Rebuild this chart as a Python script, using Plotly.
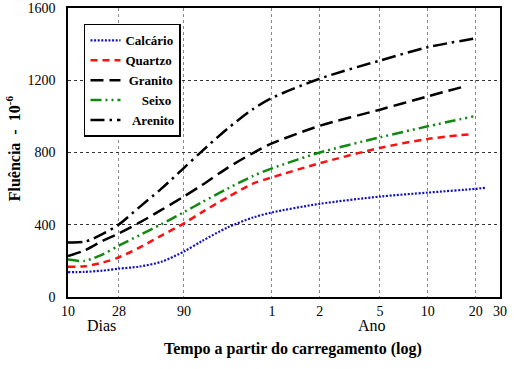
import numpy as np
import plotly.graph_objects as go

# ---------------- data ----------------
# time since loading, in days (10 days ... 30 years)
tick_days = [10, 28, 90, 365, 730, 1825, 3650, 7300, 10950]
tick_text = ["10", "28", "90", "1", "2", "5", "10", "20", "30"]
# relative position of each tick along the (approximately log) time axis of the original
tick_u = [0.0, 0.118, 0.2685, 0.472, 0.583, 0.722, 0.833, 0.944, 1.0]

days = [10, 14, 20, 28, 40, 60, 90, 120, 180, 270, 365, 730, 1825, 3650]

calcario = [137, 139, 146, 157, 168, 195, 252, 310, 385, 440, 468, 516, 556, 578]
calcario_end_days = [7300, 8650]
calcario_end = [599, 605]

quartzo = [168, 170, 190, 220, 272, 340, 408, 470, 552, 628, 662, 741, 825, 875]
quartzo_end_days = [6900]
quartzo_end = [902]

granito = [227, 258, 310, 352, 410, 482, 557, 620, 715, 797, 850, 948, 1037, 1111]
granito_end_days = [6050]
granito_end = [1163]

seixo = [207, 200, 235, 285, 340, 403, 470, 525, 600, 670, 712, 800, 884, 945]
seixo_end_days = [7050]
seixo_end = [1000]

arenito = [302, 306, 348, 402, 495, 600, 715, 808, 932, 1040, 1102, 1209, 1309, 1383]
arenito_end_days = [7200]
arenito_end = [1431]

y_ticks = [0, 400, 800, 1200, 1600]

FONT = '"Liberation Serif", "Times New Roman", Times, serif'


def to_axis(d):
    return np.interp(np.log10(np.asarray(d, dtype=float)), np.log10(tick_days), tick_u)


series = [
    ("Calcário", calcario, calcario_end_days, calcario_end, "#1010c8", "2px,1.6px", 2.2),
    ("Quartzo", quartzo, quartzo_end_days, quartzo_end, "#ff1010", "7px,5px", 2.5),
    ("\u00a0Granito", granito, granito_end_days, granito_end, "#000000", "13px,6px", 2.5),
    ("\u00a0\u00a0\u00a0\u00a0\u00a0Seixo", seixo, seixo_end_days, seixo_end, "#118811",
     "11px,4px,2px,4px,2px,4px", 2.5),
    ("\u00a0\u00a0Arenito", arenito, arenito_end_days, arenito_end, "#000000",
     "14px,5px,2.5px,5px", 2.5),
]

fig = go.Figure()
for name, vals, edays, evals, color, dash, w in series:
    xd = list(days) + list(edays)
    yv = list(vals) + list(evals)
    fig.add_trace(go.Scatter(
        x=to_axis(xd), y=yv, mode="lines", name=f"<b>{name}</b>",
        line=dict(color=color, dash=dash, width=w, shape="spline", smoothing=0.8),
    ))

fig.update_layout(
    width=514, height=369,
    margin=dict(l=68, r=14, t=8, b=72, autoexpand=False),
    paper_bgcolor="white", plot_bgcolor="white",
    font=dict(family=FONT, size=14, color="black"),
    showlegend=True,
    legend=dict(
        x=0.037, y=0.945, xanchor="left", yanchor="top",
        bgcolor="white", bordercolor="black", borderwidth=1.5,
        font=dict(family=FONT, size=13, color="black"),
        tracegroupgap=0, itemwidth=30,
    ),
    xaxis=dict(
        range=[0, 1], tickmode="array", tickvals=tick_u, ticktext=tick_text,
        showgrid=True, gridcolor="#888888", griddash="dot", gridwidth=1,
        showline=True, linecolor="black", linewidth=1.5, mirror=True,
        ticks="", zeroline=False, automargin=False,
        tickfont=dict(family=FONT, size=14),
    ),
    yaxis=dict(
        range=[0, 1600], tickmode="array", tickvals=y_ticks,
        showgrid=True, gridcolor="#333333", griddash="dot", gridwidth=1,
        showline=True, linecolor="black", linewidth=1.5, mirror=True,
        ticks="outside", ticklen=8, tickcolor="rgba(0,0,0,0)", zeroline=False,
        automargin=False,
        tickfont=dict(family=FONT, size=14),
    ),
    annotations=[
        dict(text="<b>Fluência  -  10<sup>-6</sup></b>", textangle=-90,
             xref="paper", yref="paper", x=-0.127, y=0.515,
             xanchor="center", yanchor="middle", showarrow=False,
             font=dict(family=FONT, size=16)),
        dict(text="<b>Tempo a partir do carregamento (log)</b>",
             xref="paper", yref="paper", x=0.521, y=-0.18,
             xanchor="center", yanchor="middle", showarrow=False,
             font=dict(family=FONT, size=16)),
        dict(text="Dias", xref="paper", yref="paper", x=0.0787, y=-0.097,
             xanchor="center", yanchor="middle", showarrow=False,
             font=dict(family=FONT, size=16)),
        dict(text="Ano", xref="paper", yref="paper", x=0.7037, y=-0.097,
             xanchor="center", yanchor="middle", showarrow=False,
             font=dict(family=FONT, size=16)),
    ],
)

fig.write_html("out.html", config={"displayModeBar": False},
               post_script="document.body.style.margin='0';")
